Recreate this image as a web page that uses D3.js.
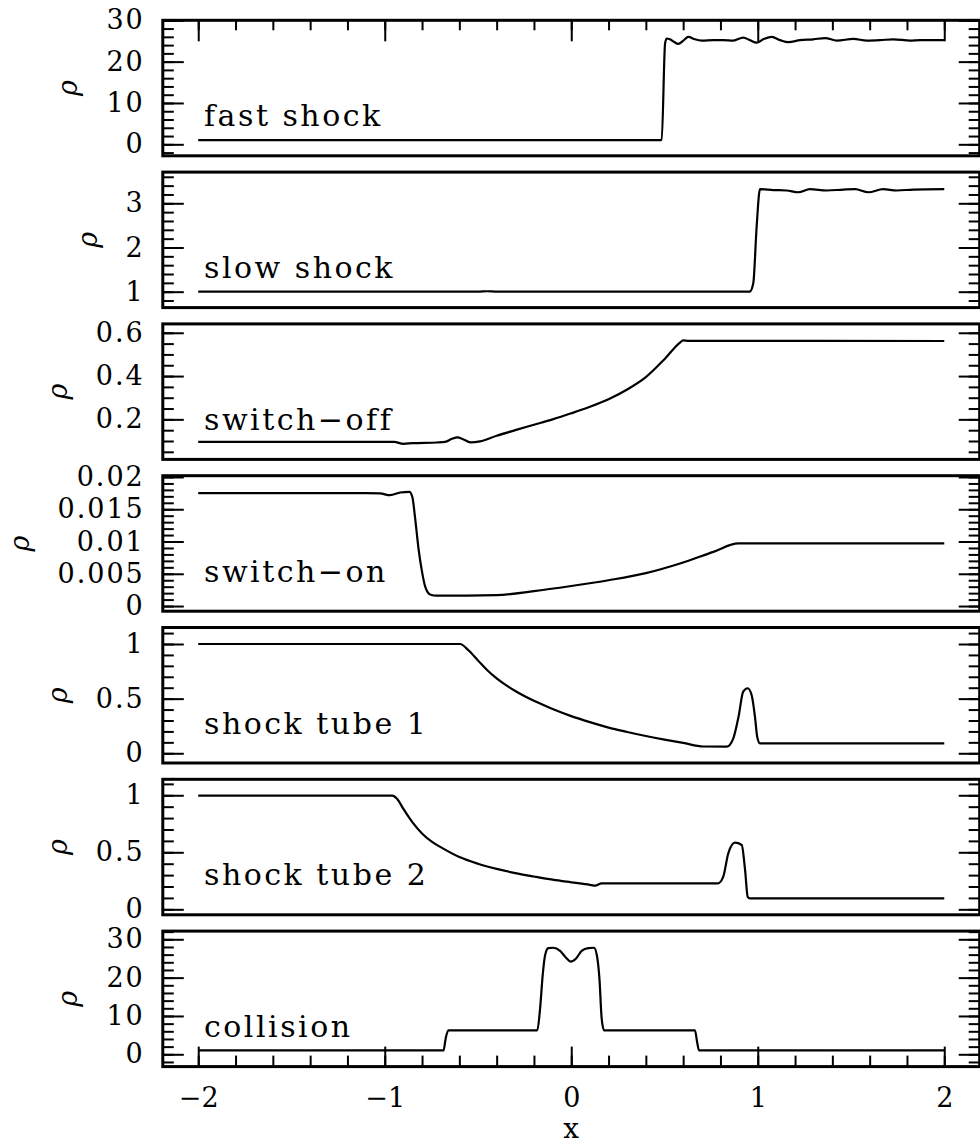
<!DOCTYPE html>
<html><head><meta charset="utf-8">
<script src="https://cdn.jsdelivr.net/npm/d3@7"></script>
<style>
html,body{margin:0;padding:0;background:#fff;}
svg{display:block;}
text{font-family:"DejaVu Serif",serif;fill:#000;}
</style></head><body>
<svg id="chart" width="980" height="1147"></svg>
<script>
// ---------- data ----------
const xMajorTicks = [-2, -1, 0, 1, 2];
const panelLabels = ["fast shock", "slow shock", "switch\u2212off", "switch\u2212on", "shock tube 1", "shock tube 2", "collision"];
const yAxisLabel = "\u03c1";
const xAxisLabel = "x";

const fastShock = [[-2,1],[0.47,1],[0.485,1.04],[0.503,24.4],[0.512,25.6],[0.529,25.4],[0.55,24.8],[0.574,24.3],[0.601,25.1],[0.628,26.0],[0.663,25.4],[0.699,25.1],[0.762,25.2],[0.815,25.2],[0.869,25.1],[0.922,25.8],[0.958,25.2],[0.994,24.6],[1.03,25.4],[1.075,26.0],[1.12,25.2],[1.164,24.7],[1.227,25.2],[1.298,25.4],[1.361,25.7],[1.424,25.1],[1.513,25.5],[1.585,25.1],[1.656,25.2],[1.727,25.4],[1.817,25.1],[1.87,25.2],[2,25.2]];
const slowShock = [[-2,1],[-0.5,1],[-0.45,1.01],[-0.4,1],[0.957,1.0],[0.976,1.19],[0.994,2.47],[1.012,3.32],[1.083,3.30],[1.155,3.29],[1.218,3.25],[1.28,3.32],[1.37,3.29],[1.459,3.31],[1.522,3.32],[1.593,3.25],[1.673,3.32],[1.745,3.29],[1.834,3.31],[2,3.32]];
const switchOff = [[-2,0.096],[-0.95,0.096],[-0.9,0.087],[-0.85,0.090],[-0.72,0.093],[-0.676,0.096],[-0.64,0.110],[-0.61,0.117],[-0.58,0.108],[-0.54,0.094],[-0.49,0.098],[-0.4,0.124],[-0.3,0.150],[-0.2,0.175],[-0.1,0.200],[0.0,0.228],[0.1,0.258],[0.2,0.293],[0.3,0.338],[0.4,0.395],[0.5,0.478],[0.583,0.555],[0.60,0.565],[0.63,0.563],[2,0.562]];
const switchOn = [[-2,0.0175],[-1.1,0.0175],[-1.025,0.01745],[-0.971,0.01718],[-0.917,0.0176],[-0.868,0.0177],[-0.852,0.0169],[-0.837,0.0136],[-0.819,0.0089],[-0.80,0.0053],[-0.783,0.0030],[-0.757,0.0018],[-0.72,0.0016],[-0.4,0.0017],[-0.2,0.0023],[0.0,0.0031],[0.2,0.0040],[0.4,0.0051],[0.583,0.0066],[0.762,0.0084],[0.896,0.0097],[2,0.0097]];
const shockTube1 = [[-2,1],[-0.596,1],[-0.55,0.94],[-0.5,0.85],[-0.45,0.76],[-0.4,0.685],[-0.3,0.57],[-0.2,0.48],[-0.1,0.405],[0.0,0.34],[0.1,0.285],[0.2,0.235],[0.3,0.195],[0.4,0.158],[0.5,0.125],[0.6,0.095],[0.708,0.062],[0.833,0.060],[0.869,0.137],[0.897,0.335],[0.922,0.564],[0.946,0.595],[0.967,0.533],[0.985,0.335],[0.997,0.152],[1.012,0.091],[2,0.091]];
const shockTube2 = [[-2,0.996],[-0.96,0.996],[-0.93,0.96],[-0.9,0.88],[-0.85,0.76],[-0.8,0.665],[-0.75,0.595],[-0.7,0.545],[-0.6,0.458],[-0.5,0.40],[-0.4,0.355],[-0.3,0.318],[-0.2,0.288],[-0.1,0.26],[0.0,0.237],[0.1,0.215],[0.128,0.207],[0.163,0.228],[0.788,0.228],[0.815,0.286],[0.842,0.491],[0.878,0.584],[0.914,0.564],[0.932,0.345],[0.946,0.11],[0.958,0.096],[2,0.096]];
const collision = [[-2,1],[-0.685,1],[-0.673,4.2],[-0.659,6.26],[-0.182,6.26],[-0.167,12.0],[-0.153,20.7],[-0.14,25.9],[-0.123,27.7],[-0.096,27.8],[-0.06,27.0],[-0.028,25.2],[-0.003,24.2],[0.026,25.0],[0.056,27.0],[0.092,27.7],[0.122,27.8],[0.137,25.9],[0.151,19.8],[0.163,9.4],[0.176,6.26],[0.663,6.26],[0.676,2.9],[0.685,1],[2,1]];

const panelSeries = [fastShock, slowShock, switchOff, switchOn, shockTube1, shockTube2, collision];
const yMajorTicks = [[0,10,20,30],[1,2,3],[0.2,0.4,0.6],[0,0.005,0.01,0.015,0.02],[0,0.5,1],[0,0.5,1],[0,10,20,30]];
const yMinorSteps = [2, 0.2, 0.05, 0.001, 0.1, 0.1, 2];
const yDomains = [[-2.78,30],[0.64,3.706],[0.015,0.641],[-0.0008,0.0202],[-0.089,1.151],[-0.048,1.14],[-3.21,32.14]];
const xDomain = [-2.19, 2.19];
const xMinorStep = 0.2;

// ---------- layout ----------
const svg = d3.select("#chart");
const x = d3.scaleLinear().domain(xDomain).range([162.8, 979.7]);
const x0 = x(xDomain[0]), x1 = x(xDomain[1]);
const top0 = 20.3, pitch = 151.8, ph = 135.5;
const fmt = d3.format("~g");
const FONT_TICK = 27, FONT_LAB = 30;

function stepTicks(domain, step){
  const a = Math.ceil(domain[0]/step - 1e-9), b = Math.floor(domain[1]/step + 1e-9);
  return d3.range(a, b+1).map(i => +(i*step).toPrecision(10));
}
function styleAxis(g){
  g.select(".domain").remove();
  g.selectAll(".tick line").attr("stroke","#000").attr("stroke-width",2);
  g.selectAll(".tick text").style("font-family",'"DejaVu Serif", serif')
    .style("font-size", FONT_TICK+"px").style("letter-spacing","2px").attr("fill","#000");
}

panelSeries.forEach((series, i) => {
  const t = top0 + i*pitch;
  const y = d3.scaleLinear().domain(yDomains[i]).range([t+ph, t]);
  const g = svg.append("g");
  const minors = stepTicks(yDomains[i], yMinorSteps[i]);

  g.append("g").attr("transform",`translate(${x0},0)`)
    .call(d3.axisLeft(y).tickValues(minors).tickSize(-11).tickFormat("")).call(styleAxis);
  g.append("g").attr("transform",`translate(${x1},0)`)
    .call(d3.axisRight(y).tickValues(minors).tickSize(-11).tickFormat("")).call(styleAxis);
  const la = g.append("g").attr("transform",`translate(${x0},0)`)
    .call(d3.axisLeft(y).tickValues(yMajorTicks[i]).tickSize(-21).tickPadding(18).tickFormat(fmt)).call(styleAxis);
  g.append("g").attr("transform",`translate(${x1},0)`)
    .call(d3.axisRight(y).tickValues(yMajorTicks[i]).tickSize(-21).tickFormat("")).call(styleAxis);

  const xMinors = stepTicks([-2, 2], xMinorStep);
  if (i === 0) {
    g.append("g").attr("transform",`translate(0,${t})`)
      .call(d3.axisTop(x).tickValues(xMinors).tickSize(-10).tickFormat("")).call(styleAxis);
    g.append("g").attr("transform",`translate(0,${t})`)
      .call(d3.axisTop(x).tickValues(xMajorTicks).tickSize(-21).tickFormat("")).call(styleAxis);
  }
  if (i === panelSeries.length - 1) {
    g.append("g").attr("transform",`translate(0,${t+ph})`)
      .call(d3.axisBottom(x).tickValues(xMinors).tickSize(-11).tickFormat("")).call(styleAxis);
    const bx = g.append("g").attr("transform",`translate(0,${t+ph})`)
      .call(d3.axisBottom(x).tickValues(xMajorTicks).tickSize(-20).tickPadding(21).tickFormat(fmt)).call(styleAxis);
    bx.selectAll(".tick text").style("letter-spacing","0px");
  }

  // frame
  g.append("rect").attr("x", x0).attr("y", t).attr("width", x1 - x0).attr("height", ph)
    .attr("fill","none").attr("stroke","#000").attr("stroke-width",3);

  // data line
  const line = d3.line().x(d => x(d[0])).y(d => y(d[1])).curve(d3.curveMonotoneX);
  g.append("path").datum(series).attr("d", line)
    .attr("fill","none").attr("stroke","#000").attr("stroke-width",2.2).attr("stroke-linejoin","round");

  // panel label
  g.append("text").attr("x", 204).attr("y", t + 106).text(panelLabels[i])
    .style("font-size", FONT_LAB+"px").style("letter-spacing","2.5px");

  // y label
  let minX = Infinity;
  la.selectAll(".tick text").each(function(){ const b = this.getBBox(); minX = Math.min(minX, b.x); });
  const bxPos = x0 + minX - 29;
  g.append("text").attr("transform",`translate(${bxPos},${t + ph/2}) rotate(-90)`)
    .attr("text-anchor","middle").style("font-style","italic").style("font-size","27px").text(yAxisLabel);
});

svg.append("text").attr("x", x(0)).attr("y", 1138).attr("text-anchor","middle")
  .style("font-size", "28px").text(xAxisLabel);
</script>
</body></html>
